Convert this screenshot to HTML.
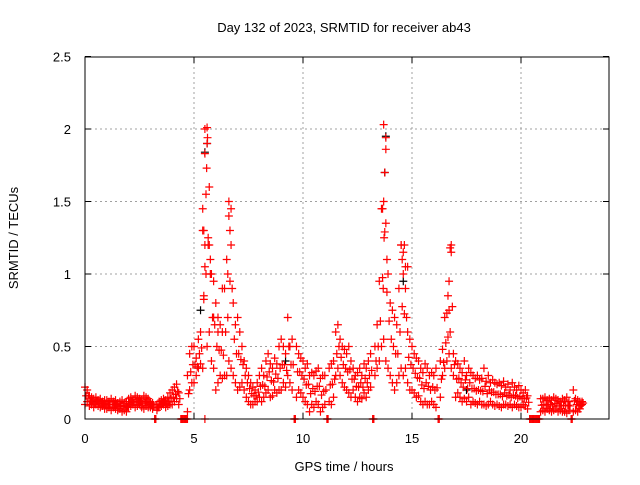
<!DOCTYPE html>
<html><head><meta charset="utf-8"><style>
body{margin:0;background:#fff}
svg text{font-family:"Liberation Sans",sans-serif;font-size:13px;fill:#000}
</style></head><body>
<svg id="chart" width="640" height="480" viewBox="0 0 640 480" xmlns="http://www.w3.org/2000/svg">
<rect width="640" height="480" fill="#fff"/>
<text x="344" y="32" text-anchor="middle">Day 132 of 2023, SRMTID for receiver ab43</text>
<text x="344" y="471" text-anchor="middle">GPS time / hours</text>
<text x="0" y="0" text-anchor="middle" transform="translate(18,238) rotate(-90)">SRMTID / TECUs</text>
<g id="grid"></g>
<g id="axes"></g>
<g id="marks"></g>
<rect x="85" y="57" width="524" height="362" fill="none" stroke="#000" stroke-width="1"/>
</svg>
<script>
const xTicks=[0,5,10,15,20];
const yTicks=[0,0.5,1,1.5,2,2.5];
const yTickLabels=["0","0.5","1","1.5","2","2.5"];
const startHour=0, stepHour=0.1;
const hiVals=[.22,.2,.16,.15,.14,.15,.13,.14,.12,.13,
.13,.12,.14,.12,.13,.11,.12,.13,.11,.12,
.14,.15,.13,.16,.15,.14,.13,.16,.15,.14,
.12,.11,0,.1,.12,.13,.14,.13,.15,.18,
.2,.22,.24,.18,0,0,0,.3,.45,.5,
.5,.42,.55,.6,1.3,2.0,1.9,1.6,1.0,.95,
.8,.7,.65,.6,.9,1.1,1.5,1.45,.8,.65,
.7,.6,.5,.4,.35,.3,.25,.22,.2,.25,
.3,.35,.3,.4,.45,.38,.35,.42,.38,.5,
.55,.5,.45,.7,.5,.55,0,.5,.45,.42,
.4,.35,.38,.3,.32,.3,.33,.35,.28,.3,
.3,0,.35,.38,.4,.6,.65,.55,.5,.48,
.45,.5,.4,.35,.3,.32,.35,.3,.38,.35,
.4,.45,0,.5,.65,.95,1.45,2.03,1.35,1.0,
.8,.75,.7,.65,.9,1.2,1.15,1.05,.6,.55,
.5,.45,.42,.4,.35,.32,.38,.35,.3,.32,
.3,.35,0,.4,.48,.7,.73,.75,1.2,.45,
.4,.38,.35,.32,.4,.3,.35,.32,.3,.28,
.3,.27,.28,.35,.26,.3,.25,.27,.25,.24,
.25,.23,.26,.22,.24,.2,.25,.22,.2,.23,
.2,.18,.2,.16,0,0,0,0,0,.14,
.14,.15,.13,.14,.13,.15,.14,.13,.12,.14,
.13,.15,.12,0,.2,.14,.13,.12,.12];
const loVals=[.1,.12,.09,.1,.08,.1,.09,.08,.09,.07,
.07,.08,.06,.08,.07,.06,.07,.05,.06,.05,
.08,.09,.1,.08,.09,.1,.08,.07,.09,.08,
.08,.07,0,.06,.08,.09,.1,.08,.09,.1,
.1,.12,.14,.1,0,0,0,.05,.2,.25,
.25,.3,.35,.38,.35,0,.5,.6,.4,.35,
.2,.25,.3,.28,.3,.3,.4,.35,.3,.25,
.2,.22,.25,.2,.15,.12,.1,.1,.12,.12,
.15,.12,.15,.18,.2,.15,.16,.2,.18,.2,
.2,.25,.22,.3,.25,.2,0,.15,.2,.18,
.15,.12,.1,.05,.1,.08,.12,.1,.05,.08,
.1,0,.12,.1,.15,.3,.35,.3,.25,.22,
.2,.18,.15,.2,.15,.12,.15,.14,.18,.15,
.2,.22,0,.3,.35,.4,.5,.55,.4,.35,
.3,.25,.2,.25,.3,.35,.3,.35,.25,.2,
.2,.18,.15,.16,.12,.1,.12,.1,.1,.12,
.1,.08,0,.15,.3,.35,.4,.45,.35,.3,
.15,.18,.15,.12,.14,.12,.15,.1,.12,.11,
.1,.12,.1,.1,.09,.1,.12,.1,.09,.1,
.09,.08,.1,.1,.09,.1,.08,.1,.09,.08,
.08,.1,.09,.07,0,0,0,0,0,.05,
.06,.05,.07,.06,.05,.06,.07,.05,.06,.05,
.05,.04,.06,0,.05,.06,.05,.07,.1];
const spikeX=[5.4,5.45,5.5,5.55,5.6,5.62,5.58,5.5,5.5,5.65,5.7,5.75,5.45,6.6,6.65,6.7,6.55,6.3,5.9,6.1,13.7,13.65,13.75,13.8,13.8,13.72,13.68,13.85,14.5,14.55,14.6,14.65,14.7,14.8,16.75,16.8,16.7,16.65,4.45,4.6,4.7];
const spikeY=[1.45,1.3,1.83,1.55,2.01,1.94,1.73,1.2,1.05,1.25,1.2,1.0,0.85,1.4,1.3,1.2,1.0,0.9,0.7,0.6,1.5,1.45,1.7,1.86,1.94,1.25,0.9,1.1,1.2,1.1,1.0,1.2,0.9,1.05,1.18,1.15,0.95,0.85,0,0,0];
const blackX=[5.5,5.6,13.75,13.8,14.6,5.3,9.2,0.3,17.5];
const blackY=[1.84,1.9,1.7,1.95,0.95,0.75,0.4,0.12,0.2];

const X0=85,X1=608.2,Y0=419,Y1=56.5,XMAX=24,YMAX=2.5;
const sx=h=>X0+(X1-X0)*h/XMAX;
const sy=v=>Y0-(Y0-Y1)*v/YMAX;
const NS="http://www.w3.org/2000/svg";
const grid=document.getElementById('grid'),axes=document.getElementById('axes'),marks=document.getElementById('marks');
function mk(tag,attrs,parent){const e=document.createElementNS(NS,tag);for(const k in attrs)e.setAttribute(k,attrs[k]);parent.appendChild(e);return e;}
xTicks.forEach(t=>{
  const x=sx(t);
  if(t>0){const g=mk('line',{x1:x,x2:x,y1:57,y2:419,stroke:'#a0a0a0','stroke-dasharray':'2,3'},grid);
  
  }
  const tk=mk('path',{d:`M${x} 419v-6M${x} 57v6`,stroke:'#000'},axes);
  
  
  const tx=mk('text',{x:x,y:443,'text-anchor':'middle'},axes);tx.textContent=t;
  
  
});
yTicks.forEach((t,i)=>{
  const y=sy(t);
  if(t>0&&t<2.5){const g=mk('line',{x1:85,x2:609,y1:y,y2:y,stroke:'#a0a0a0','stroke-dasharray':'2,3'},grid);
  
  }
  const tk=mk('path',{d:`M85 ${y}h6M609 ${y}h-6`,stroke:'#000'},axes);
  
  
  const tx=mk('text',{x:71,y:y+5,'text-anchor':'end'},axes);tx.textContent=yTickLabels[i];
  
  
});
function plus(h,v,color,name){
  const x=sx(h),y=sy(v);
  const p=mk('path',{d:`M${x-4} ${y}h8M${x} ${y-4}v8`,stroke:color,'stroke-width':1.2},marks);
  
  
}
blackX.forEach((h,i)=>plus(h,blackY[i],'#000','black-point'));
hiVals.forEach((v,i)=>{const h=startHour+i*stepHour;plus(h,v,'#f00','red-point');plus(h+0.05,(v+loVals[i])/2,'#f00','red-point');});
loVals.forEach((v,i)=>plus(startHour+i*stepHour,v,'#f00','red-point'));
spikeX.forEach((h,i)=>plus(h,spikeY[i],'#f00','red-spike-point'));
</script>
</body></html>
